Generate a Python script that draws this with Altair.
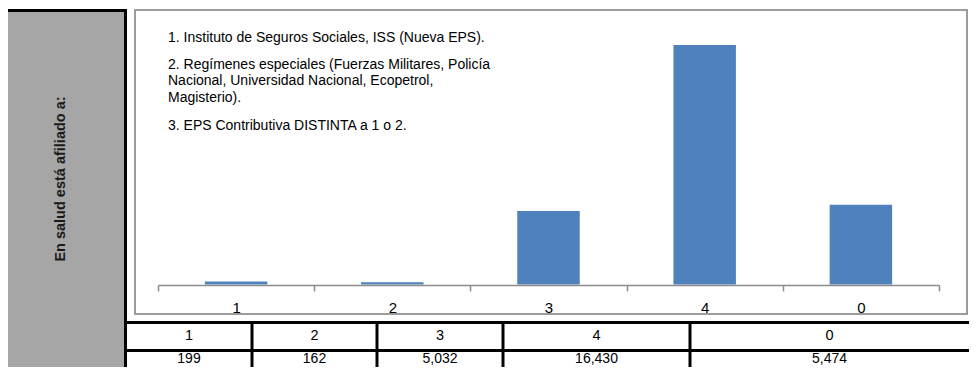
import altair as alt
import pandas as pd

# ---------------- data ----------------
CATEGORIES = ["1", "2", "3", "4", "0"]
COUNTS = [199, 162, 5032, 16430, 5474]
COUNT_LABELS = ["199", "162", "5,032", "16,430", "5,474"]
NOTES = [
    ["1. Instituto de Seguros Sociales, ISS (Nueva EPS)."],
    ["2. Regímenes especiales (Fuerzas Militares, Policía",
     "Nacional, Universidad Nacional, Ecopetrol,",
     "Magisterio)."],
    ["3. EPS Contributiva DISTINTA a 1 o 2."],
]
SIDE_TITLE = "En salud está afiliado a:"
Y_MAX = 18000

# ---------------- layout / style ----------------
W, H = 961, 359
TABLE_COL_WIDTHS = [126, 125, 126, 187, 279]
NOTE_Y = [29.5, 57, 117.5]
FONT = "Liberation Sans"
BAR_COLOR = "#4f81bd"
SIDE_GREY = "#a6a6a6"
BOX_GREY = "#9c9c9c"
AXIS_GREY = "#8c8c8c"

one = pd.DataFrame({"k": [0]})

bars_df = pd.DataFrame({"cat": CATEGORIES, "count": COUNTS})

edges = [0]
for w in TABLE_COL_WIDTHS:
    edges.append(edges[-1] + w)
table_df = pd.DataFrame({
    "cat": CATEGORIES,
    "label": COUNT_LABELS,
    "mid": [(edges[i] + edges[i + 1]) / 2 for i in range(len(CATEGORIES))],
})
inner_edges = pd.DataFrame({"edge": edges[1:-1]})
tx_scale = alt.Scale(domain=[0, edges[-1]], range=[118, W])

# side grey box
side_box = alt.Chart(one).mark_rect(fill=SIDE_GREY).encode(
    x=alt.value(0), x2=alt.value(119), y=alt.value(1), y2=alt.value(H))
side_top = alt.Chart(one).mark_rule(color="black", strokeWidth=3).encode(
    x=alt.value(0), x2=alt.value(119), y=alt.value(2.5))
side_right = alt.Chart(one).mark_rule(color="black", strokeWidth=3).encode(
    x=alt.value(117.5), y=alt.value(1), y2=alt.value(H))
side_title = alt.Chart(one).mark_text(
    text=SIDE_TITLE, angle=270, font=FONT, fontWeight="bold", fontSize=14.5,
    color="#1a1a1a", align="center", baseline="middle").encode(
    x=alt.value(53), y=alt.value(171))

# chart frame
frame = alt.Chart(one).mark_rect(fill="white", stroke=BOX_GREY, strokeWidth=2).encode(
    x=alt.value(127), x2=alt.value(959), y=alt.value(2), y2=alt.value(306))

# notes
note_layers = []
for lines, yv in zip(NOTES, NOTE_Y):
    note_layers.append(
        alt.Chart(one).mark_text(
            text=lines, font=FONT, fontSize=14, lineHeight=16.3, color="black",
            align="left", baseline="middle").encode(x=alt.value(160), y=alt.value(yv)))

# bars with category axis
bars = alt.Chart(bars_df).mark_bar(color=BAR_COLOR, width=alt.RelativeBandSize(0.4)).encode(
    x=alt.X("cat:N", sort=CATEGORIES,
            scale=alt.Scale(domain=CATEGORIES, range=[150, 931], paddingInner=0, paddingOuter=0),
            axis=alt.Axis(title=None, orient="bottom", offset=277 - H, tickBand="extent",
                          labelAngle=0, grid=False, domainColor=AXIS_GREY, domainWidth=1.5,
                          tickColor=AXIS_GREY, tickWidth=1.5, tickSize=6,
                          labelFont=FONT, labelFontSize=15, labelColor="black",
                          labelPadding=9, zindex=1)),
    y=alt.Y("count:Q", scale=alt.Scale(domain=[0, Y_MAX], range=[276.5, 14]), axis=None),
)

# table
h_lines = alt.Chart(pd.DataFrame({"yy": [314.5, 342.5]})).mark_rule(color="black", strokeWidth=3).encode(
    x=alt.value(118), x2=alt.value(W),
    y=alt.Y("yy:Q", scale=alt.Scale(domain=[0, H], range=[0, H]), axis=None))
v_lines = alt.Chart(inner_edges).mark_rule(color="black", strokeWidth=3).encode(
    x=alt.X("edge:Q", scale=tx_scale, axis=None), y=alt.value(313), y2=alt.value(H))
cat_text = alt.Chart(table_df).mark_text(font=FONT, fontSize=14.5, color="black", baseline="middle").encode(
    x=alt.X("mid:Q", scale=tx_scale, axis=None), y=alt.value(328), text="cat:N")
val_text = alt.Chart(table_df).mark_text(font=FONT, fontSize=14, color="black", baseline="middle").encode(
    x=alt.X("mid:Q", scale=tx_scale, axis=None), y=alt.value(350.5), text="label:N")

chart = alt.layer(
    side_box, side_top, side_right, side_title, frame, *note_layers, bars,
    h_lines, v_lines, cat_text, val_text,
).resolve_scale(x="independent", y="independent").properties(
    width=W, height=H, padding=0, autosize=alt.AutoSizeParams(type="none"),
).configure_view(strokeWidth=0)

chart.save("out.html", embed_options={"renderer": "svg", "actions": False})
